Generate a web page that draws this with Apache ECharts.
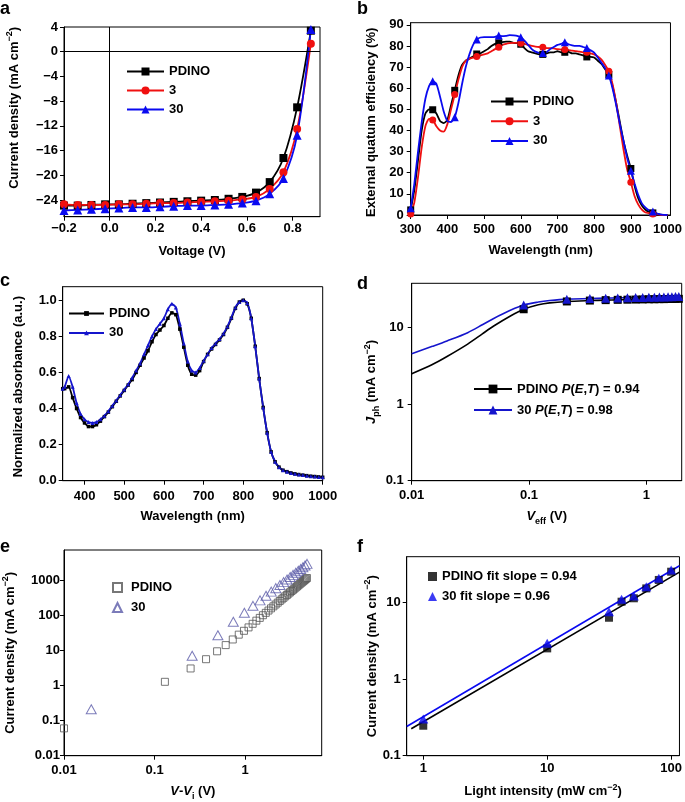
<!DOCTYPE html>
<html><head><meta charset="utf-8">
<script src="https://cdn.jsdelivr.net/npm/echarts@6/dist/echarts.min.js"></script>
<style>html,body{margin:0;padding:0;background:#fff}#c{width:685px;height:802px}</style>
</head><body><div id="c"></div><script>
const FONT = '"Liberation Sans", Arial, Helvetica, sans-serif';

// ---------- a: J-V curves ----------
const jvVoltage = [-0.2,-0.14,-0.08,-0.02,0.04,0.10,0.16,0.22,0.28,0.34,0.40,0.46,0.52,0.58,0.64,0.70,0.76,0.82,0.88];
const jvPDINO = [-24.9,-24.9,-24.8,-24.7,-24.7,-24.6,-24.5,-24.4,-24.3,-24.2,-24.1,-24.0,-23.8,-23.5,-22.8,-21.1,-17.2,-9.0,3.4];
const jv3     = [-24.7,-24.8,-24.8,-24.8,-24.7,-24.7,-24.6,-24.5,-24.5,-24.4,-24.3,-24.2,-24.1,-23.9,-23.5,-22.2,-19.5,-12.5,1.3];
const jv30    = [-25.7,-25.6,-25.5,-25.4,-25.3,-25.2,-25.2,-25.1,-25.0,-24.9,-24.9,-24.8,-24.7,-24.5,-24.1,-23.0,-20.5,-13.5,3.6];
const jvXTicks = [-0.2,0,0.2,0.4,0.6,0.8];
const jvYTicks = [-24,-20,-16,-12,-8,-4,0,4];

// ---------- b: EQE ----------
const eqeWavelength = [300,310,320,330,340,350,360,370,380,390,400,410,420,430,440,450,460,470,480,490,500,510,520,530,540,550,560,570,580,590,600,610,620,630,640,650,660,670,680,690,700,710,720,730,740,750,760,770,780,790,800,810,820,830,840,850,860,870,880,890,900,910,920,930,940,950,960,970,980,990,1000];
const eqePDINO = [2.4,12,26,40,48,50,49.8,48,44.5,43.5,45,52,59,66,71,73,74,75,76.2,76.5,77.5,78.5,80,81,81.5,81.8,82,82,81.5,81.3,80.8,79,77.5,77,76.5,76,76,76.5,77,77,77.5,77,77,77.2,76.5,76.5,76,75.5,74.8,74.8,74.5,73,71.5,69,66.5,61,53,44,35,28,22,14,8,4.5,2.5,1.5,1,0.5,0.2,0,0];
const eqe3     = [0.5,6,18,32,42,45.5,45,42,40,39.5,43,50,57,64,70,73,74,74.5,75,75.5,76,76.5,77.5,78.5,79.4,80.5,81,81.3,81.5,81.5,81.3,81,80.5,80,79.7,79.5,79.4,79,79,78.8,78.5,78.3,78.3,78,77.8,77.5,77.3,77,77,76.5,76,75,73.5,71,68,62,53,42,31,21.5,15.5,9,5,2.5,1.2,0.8,0.5,0.3,0.1,0,0];
const eqe30    = [3.2,15,30,44,55,61,63.3,62,56,49,44.5,44,46.3,53,62,70,76,80.5,83,84,84.2,84.2,84.2,84.3,84.9,84.6,84.8,85.1,85,84.8,84.1,82.5,80.5,78.5,77.3,76.7,76.7,77,78.5,79.5,80.5,81,81.8,80.8,80.3,80,80,79.5,79,78,76.8,74.5,72,69.5,66,60,52,43,35,27,20.9,15,9.5,5.5,3.5,2.2,1.7,0.8,0.3,0.1,0];
const eqeMarkerWavelength = [300,360,420,480,540,600,660,720,780,840,900,960];
const eqeXTicks = [300,400,500,600,700,800,900,1000];
const eqeYTicks = [0,10,20,30,40,50,60,70,80,90];

// ---------- c: absorbance ----------
const absWavelength = [345,350,360,370,380,390,400,410,420,430,440,450,460,470,480,490,500,510,520,530,540,550,560,570,580,590,600,610,620,630,640,650,660,670,680,690,700,710,720,730,740,750,760,770,780,790,800,810,820,830,840,850,860,870,880,890,900,910,920,930,940,950,960,970,980,990,1000];
const absPDINO = [0.51,0.51,0.52,0.46,0.40,0.35,0.32,0.30,0.30,0.31,0.33,0.355,0.38,0.41,0.44,0.47,0.50,0.53,0.56,0.60,0.64,0.68,0.72,0.77,0.81,0.835,0.86,0.90,0.93,0.92,0.84,0.74,0.64,0.59,0.585,0.61,0.66,0.70,0.73,0.755,0.78,0.81,0.85,0.90,0.955,0.99,1.0,0.98,0.90,0.745,0.566,0.406,0.266,0.16,0.105,0.075,0.058,0.05,0.043,0.038,0.034,0.031,0.028,0.025,0.023,0.021,0.019];
const abs30    = [0.51,0.52,0.58,0.52,0.43,0.37,0.34,0.325,0.32,0.325,0.34,0.36,0.385,0.415,0.445,0.475,0.505,0.535,0.57,0.61,0.65,0.70,0.75,0.80,0.84,0.87,0.90,0.95,0.98,0.96,0.87,0.76,0.66,0.61,0.60,0.625,0.665,0.70,0.735,0.76,0.785,0.815,0.855,0.905,0.96,0.99,1.0,0.985,0.90,0.745,0.566,0.406,0.266,0.16,0.105,0.075,0.058,0.05,0.043,0.038,0.034,0.031,0.028,0.025,0.023,0.021,0.019];
const absXTicks = [400,500,600,700,800,900,1000];
const absYTicks = [0,0.2,0.4,0.6,0.8,1.0];

// ---------- d: Jph vs Veff ----------
const jphVeff  = [0.01,0.015,0.02,0.03,0.04,0.05,0.07,0.09,0.12,0.15,0.21,0.33,0.45,0.57,0.69,0.81,0.93,1.05,1.17,1.29,1.41,1.53,1.65,1.77,1.89,2.0];
const jphPDINO = [2.5,3.3,4.2,6.1,8.3,10.5,14.3,17.4,19.9,21.1,22.0,22.6,22.9,23.1,23.2,23.3,23.4,23.5,23.5,23.6,23.6,23.7,23.7,23.8,23.8,23.9];
const jph30    = [4.57,5.7,6.7,8.6,10.9,13.2,17.0,19.8,21.6,22.6,23.6,24.0,24.3,24.5,24.6,24.7,24.8,24.9,25.0,25.1,25.2,25.3,25.4,25.5,25.6,25.7];
const jphMarkerVeff = [0.09,0.21,0.33,0.45,0.57,0.69,0.81,0.93,1.05,1.17,1.29,1.41,1.53,1.65,1.77,1.89];

// ---------- e: SCLC ----------
const sclcVPDINO = [0.01,0.13,0.25,0.37,0.49,0.61,0.73,0.85,0.97,1.09,1.21,1.33,1.45,1.57,1.69,1.81,1.93,2.05,2.17,2.29,2.41,2.53,2.65,2.77,2.89,3.01,3.13,3.25,3.37,3.49,3.61,3.73,3.85,3.97,4.09,4.21,4.33,4.45,4.57,4.69,4.81];
const sclcJPDINO = [0.06,1.27,3.05,5.6,9.4,14.1,20.4,28,36,45,57,70,84,100,117,136,157,179,202,228,255,283,313,345,378,413,450,489,529,570,614,659,707,756,806,859,913,969,1027,1086,1148];
const sclcV30 = [0.02,0.26,0.50,0.74,0.98,1.22,1.46,1.70,1.94,2.18,2.42,2.66,2.90,3.14,3.38,3.62,3.86,4.10,4.34,4.58,4.82];
const sclcJ30 = [0.21,7.0,27,65,118,185,265,360,470,590,725,875,1040,1220,1410,1620,1840,2080,2330,2600,2900];

// ---------- f: Jsc vs light intensity ----------
const lightIntensity = [1,10,31.5,39.8,50,63,79.5,100];
const jscPDINO = [0.246,2.51,6.3,10.2,11.3,15.2,19.6,25.1];
const jsc30    = [0.30,2.92,7.55,11.0,12.1,16.0,20.6,26.4];
const fitIntensityPDINO = [0.8,116.7];
const fitJscPDINO = [0.225,24.8];
const fitIntensity30 = [0.735,116.7];
const fitJsc30 = [0.24,30];

// ---------- legend labels ----------
const legendLabels = {
  'a:PDINO': 'PDINO', 'a:3': '3', 'a:30': '30',
  'b:PDINO': 'PDINO', 'b:3': '3', 'b:30': '30',
  'c:PDINO': 'PDINO', 'c:30': '30',
  'd:PDINO': '{n|PDINO }{i|P}{n|(}{i|E}{n|,}{i|T}{n|) = 0.94}',
  'd:30': '{n|30 }{i|P}{n|(}{i|E}{n|,}{i|T}{n|) = 0.98}',
  'e:PDINO': 'PDINO', 'e:30': '30',
  'f:PDINO': 'PDINO fit slope = 0.94', 'f:30': '30 fit slope = 0.96'
};

// ---------- helpers ----------
const pairs = (xs, ys) => xs.map((x, i) => [x, ys[i]]);
const marked = (xs, ys, marks) => xs.map((x, i) => marks.indexOf(x) >= 0 ? [x, ys[i]] : {value: [x, ys[i]], symbol: 'none'});
const minusFmt = d => v => (v < 0 ? '\u2212' : '') + Math.abs(v).toFixed(d);
const logFmt = v => String(Number(Number(v).toPrecision(3)));

const rich = {
  t:   {fontSize: 13, fontWeight: 'bold', fontFamily: FONT, color: '#000', lineHeight: 18},
  i:   {fontSize: 13, fontWeight: 'bold', fontStyle: 'italic', fontFamily: FONT, color: '#000', lineHeight: 18},
  sup: {fontSize: 9, fontWeight: 'bold', fontFamily: FONT, color: '#000', lineHeight: 10, verticalAlign: 'top'},
  sub: {fontSize: 9, fontWeight: 'bold', fontFamily: FONT, color: '#000', lineHeight: 10, verticalAlign: 'bottom'}
};
const currentName = '{t|Current density (mA cm}{sup|\u22122}{t|)}';

function axis(o) {
  const a = {
    gridIndex: o.grid, type: o.type || 'value', min: o.min, max: o.max,
    name: o.name, nameLocation: 'middle', nameGap: o.nameGap,
    nameTextStyle: {rich: rich, padding: o.namePad || 0},
    axisLine: {show: true, onZero: false, lineStyle: {color: '#000', width: 1}},
    axisTick: {show: true, inside: false, length: 4, lineStyle: {color: '#000', width: 1}},
    axisLabel: {color: '#000', fontSize: 13, fontWeight: 'bold', fontFamily: FONT, margin: o.margin, formatter: o.fmt},
    splitLine: {show: false}
  };
  if (a.type === 'log') {
    a.logBase = 10;
    a.axisLabel.showMinLabel = o.showMin !== false;
    a.axisLabel.showMaxLabel = o.showMax !== false;
  } else {
    a.axisLabel.customValues = o.ticks;
    a.axisTick.customValues = o.ticks;
  }
  return a;
}

const BLUE = '#0a0af0', BLUE2 = '#1515cc', RED = '#f01010';

const option = {
  animation: false,
  backgroundColor: '#fff',
  textStyle: {fontFamily: FONT},
  grid: [
    {left: 64, top: 27, width: 256, height: 189.7},
    {left: 410.7, top: 22.7, width: 263.3, height: 192.3},
    {left: 62.7, top: 286.7, width: 260, height: 194},
    {left: 411.7, top: 283.3, width: 270, height: 197.4},
    {left: 62.7, top: 550, width: 259, height: 205.7},
    {left: 406.7, top: 556.7, width: 273.3, height: 199}
  ].map(g => Object.assign({show: true, borderColor: '#000', borderWidth: 1, containLabel: false}, g)),
  xAxis: [
    axis({grid: 0, min: -0.2, max: 0.92, ticks: jvXTicks, fmt: minusFmt(1), name: '{t|Voltage (V)}', nameGap: 26, margin: 5}),
    axis({grid: 1, min: 300, max: 1008, ticks: eqeXTicks, fmt: v => String(v), name: '{t|Wavelength (nm)}', nameGap: 26, margin: 8}),
    axis({grid: 2, min: 345, max: 1000, ticks: absXTicks, fmt: v => String(v), name: '{t|Wavelength (nm)}', nameGap: 27, margin: 9}),
    axis({grid: 3, type: 'log', min: 0.01, max: 2, fmt: logFmt, showMax: false, name: '{i|V}{sub|eff}{t| (V)}', nameGap: 27, margin: 8}),
    axis({grid: 4, type: 'log', min: 0.01, max: 7, fmt: logFmt, showMax: false, name: '{i|V}{t|-}{i|V}{sub|i}{t| (V)}', nameGap: 27, margin: 8}),
    axis({grid: 5, type: 'log', min: 0.735, max: 116.7, fmt: logFmt, showMin: false, showMax: false, name: '{t|Light intensity (mW cm}{sup|\u22122}{t|)}', nameGap: 27, margin: 6})
  ],
  yAxis: [
    axis({grid: 0, min: -26.7, max: 4, ticks: jvYTicks, fmt: minusFmt(0), name: currentName, nameGap: 41, margin: 6, namePad: [0, 0, 0, 28]}),
    axis({grid: 1, min: 0, max: 91, ticks: eqeYTicks, fmt: v => String(v), name: '{t|External quatum efficiency (%)}', nameGap: 30, margin: 7, namePad: [0, 7, 0, 0]}),
    axis({grid: 2, min: 0, max: 1.075, ticks: absYTicks, fmt: v => v.toFixed(1), name: '{t|Normalized absorbance (a.u.)}', nameGap: 35, margin: 6, namePad: [0, 6, 0, 0]}),
    axis({grid: 3, type: 'log', min: 0.1, max: 38, fmt: logFmt, showMax: false, name: '{i|J}{sub|ph}{t| (mA cm}{sup|\u22122}{t|)}', nameGap: 31, margin: 8}),
    axis({grid: 4, type: 'log', min: 0.01, max: 7200, fmt: logFmt, showMax: false, name: currentName, nameGap: 45, margin: 4}),
    axis({grid: 5, type: 'log', min: 0.1, max: 39.4, fmt: logFmt, showMax: false, name: currentName, nameGap: 25, margin: 6})
  ],
  legend: [
    {data: ['a:PDINO', 'a:3', 'a:30'], left: 126, top: 65, itemWidth: 37, itemHeight: 10, itemGap: 6},
    {data: ['b:PDINO', 'b:3', 'b:30'], left: 490, top: 95, itemWidth: 37, itemHeight: 10, itemGap: 6.7},
    {data: ['c:PDINO', 'c:30'], left: 68, top: 307, itemWidth: 35, itemHeight: 6, itemGap: 6.4},
    {data: ['d:PDINO', 'd:30'], left: 473, top: 382.5, itemWidth: 38, itemHeight: 11, itemGap: 8},
    {data: ['e:PDINO', 'e:30'], left: 112, top: 581, itemWidth: 9, itemHeight: 9, itemGap: 7, textStyle: {padding: [0, 0, 0, 4]}},
    {data: ['f:PDINO', 'f:30'], left: 428, top: 570, itemWidth: 9, itemHeight: 9, itemGap: 7}
  ].map(l => Object.assign({
    orient: 'vertical', padding: 0, selectedMode: false,
    formatter: name => legendLabels[name]
  }, l, {
    textStyle: Object.assign({color: '#000', fontSize: 13, fontWeight: 'bold', fontFamily: FONT,
      rich: {n: {fontSize: 13, fontWeight: 'bold', fontFamily: FONT, color: '#000'},
             i: {fontSize: 13, fontWeight: 'bold', fontStyle: 'italic', fontFamily: FONT, color: '#000'}}}, l.textStyle || {})
  })),
  graphic: [
    {type: 'text', left: 0, top: 0, style: {text: 'a', font: 'bold 18px ' + FONT, fill: '#000'}},
    {type: 'text', left: 357, top: 0, style: {text: 'b', font: 'bold 18px ' + FONT, fill: '#000'}},
    {type: 'text', left: 0, top: 272, style: {text: 'c', font: 'bold 18px ' + FONT, fill: '#000'}},
    {type: 'text', left: 357, top: 275, style: {text: 'd', font: 'bold 18px ' + FONT, fill: '#000'}},
    {type: 'text', left: 0, top: 538, style: {text: 'e', font: 'bold 18px ' + FONT, fill: '#000'}},
    {type: 'text', left: 357, top: 538, style: {text: 'f', font: 'bold 18px ' + FONT, fill: '#000'}}
  ],
  series: [
    // a
    {name: 'a:PDINO', type: 'line', xAxisIndex: 0, yAxisIndex: 0, data: pairs(jvVoltage, jvPDINO), smooth: 0.3,
     symbol: 'rect', symbolSize: 8, lineStyle: {color: '#000', width: 1.8}, itemStyle: {color: '#000'},
     markLine: {silent: true, symbol: 'none', label: {show: false}, lineStyle: {color: '#000', width: 1, type: 'solid'},
                data: [{xAxis: 0}, {yAxis: 0}]}},
    {name: 'a:3', type: 'line', xAxisIndex: 0, yAxisIndex: 0, data: pairs(jvVoltage, jv3), smooth: 0.3,
     symbol: 'circle', symbolSize: 8, lineStyle: {color: RED, width: 1.8}, itemStyle: {color: RED}},
    {name: 'a:30', type: 'line', xAxisIndex: 0, yAxisIndex: 0, data: pairs(jvVoltage, jv30), smooth: 0.3,
     symbol: 'triangle', symbolSize: 9, lineStyle: {color: BLUE, width: 1.8}, itemStyle: {color: BLUE}},
    // b
    {name: 'b:PDINO', type: 'line', xAxisIndex: 1, yAxisIndex: 1, data: marked(eqeWavelength, eqePDINO, eqeMarkerWavelength), smooth: 0.2,
     symbol: 'rect', symbolSize: 7, lineStyle: {color: '#000', width: 1.8}, itemStyle: {color: '#000'}},
    {name: 'b:3', type: 'line', xAxisIndex: 1, yAxisIndex: 1, data: marked(eqeWavelength, eqe3, eqeMarkerWavelength), smooth: 0.2,
     symbol: 'circle', symbolSize: 7, lineStyle: {color: RED, width: 1.8}, itemStyle: {color: RED}},
    {name: 'b:30', type: 'line', xAxisIndex: 1, yAxisIndex: 1, data: marked(eqeWavelength, eqe30, eqeMarkerWavelength), smooth: 0.2,
     symbol: 'triangle', symbolSize: 8, lineStyle: {color: BLUE, width: 1.8}, itemStyle: {color: BLUE}},
    // c
    {name: 'c:PDINO', type: 'line', xAxisIndex: 2, yAxisIndex: 2, data: pairs(absWavelength, absPDINO), smooth: 0.2,
     symbol: 'rect', symbolSize: 3.5, lineStyle: {color: '#000', width: 1.8}, itemStyle: {color: '#000'}},
    {name: 'c:30', type: 'line', xAxisIndex: 2, yAxisIndex: 2, data: pairs(absWavelength, abs30), smooth: 0.2,
     symbol: 'triangle', symbolSize: 4, lineStyle: {color: BLUE2, width: 1.8}, itemStyle: {color: BLUE2}},
    // d
    {name: 'd:PDINO', type: 'line', xAxisIndex: 3, yAxisIndex: 3, data: marked(jphVeff, jphPDINO, jphMarkerVeff), smooth: 0.3,
     symbol: 'rect', symbolSize: 8, lineStyle: {color: '#000', width: 1.6}, itemStyle: {color: '#000'}},
    {name: 'd:30', type: 'line', xAxisIndex: 3, yAxisIndex: 3, data: marked(jphVeff, jph30, jphMarkerVeff), smooth: 0.3,
     symbol: 'triangle', symbolSize: 9, lineStyle: {color: BLUE2, width: 1.6}, itemStyle: {color: BLUE2}},
    // e
    {name: 'e:PDINO', type: 'scatter', xAxisIndex: 4, yAxisIndex: 4, data: pairs(sclcVPDINO, sclcJPDINO),
     symbol: 'rect', symbolSize: 7, itemStyle: {color: 'rgba(0,0,0,0)', borderColor: '#555', borderWidth: 1}},
    {name: 'e:30', type: 'scatter', xAxisIndex: 4, yAxisIndex: 4, data: pairs(sclcV30, sclcJ30),
     symbol: 'triangle', symbolSize: [10, 9], itemStyle: {color: 'rgba(0,0,0,0)', borderColor: '#5a5aa8', borderWidth: 1}},
    // f
    {name: 'f:fitPDINO', type: 'line', xAxisIndex: 5, yAxisIndex: 5, data: pairs(fitIntensityPDINO, fitJscPDINO),
     symbol: 'none', lineStyle: {color: '#000', width: 1.6}, z: 2},
    {name: 'f:fit30', type: 'line', xAxisIndex: 5, yAxisIndex: 5, data: pairs(fitIntensity30, fitJsc30),
     symbol: 'none', lineStyle: {color: BLUE, width: 1.6}, z: 2},
    {name: 'f:PDINO', type: 'scatter', xAxisIndex: 5, yAxisIndex: 5, data: pairs(lightIntensity, jscPDINO),
     symbol: 'rect', symbolSize: 8, itemStyle: {color: '#000'}, z: 4},
    {name: 'f:30', type: 'scatter', xAxisIndex: 5, yAxisIndex: 5, data: pairs(lightIntensity, jsc30),
     symbol: 'triangle', symbolSize: [10, 9], itemStyle: {color: BLUE}, z: 5}
  ]
};

const chart = echarts.init(document.getElementById('c'), null, {renderer: 'canvas'});
chart.setOption(option);
</script></body></html>
